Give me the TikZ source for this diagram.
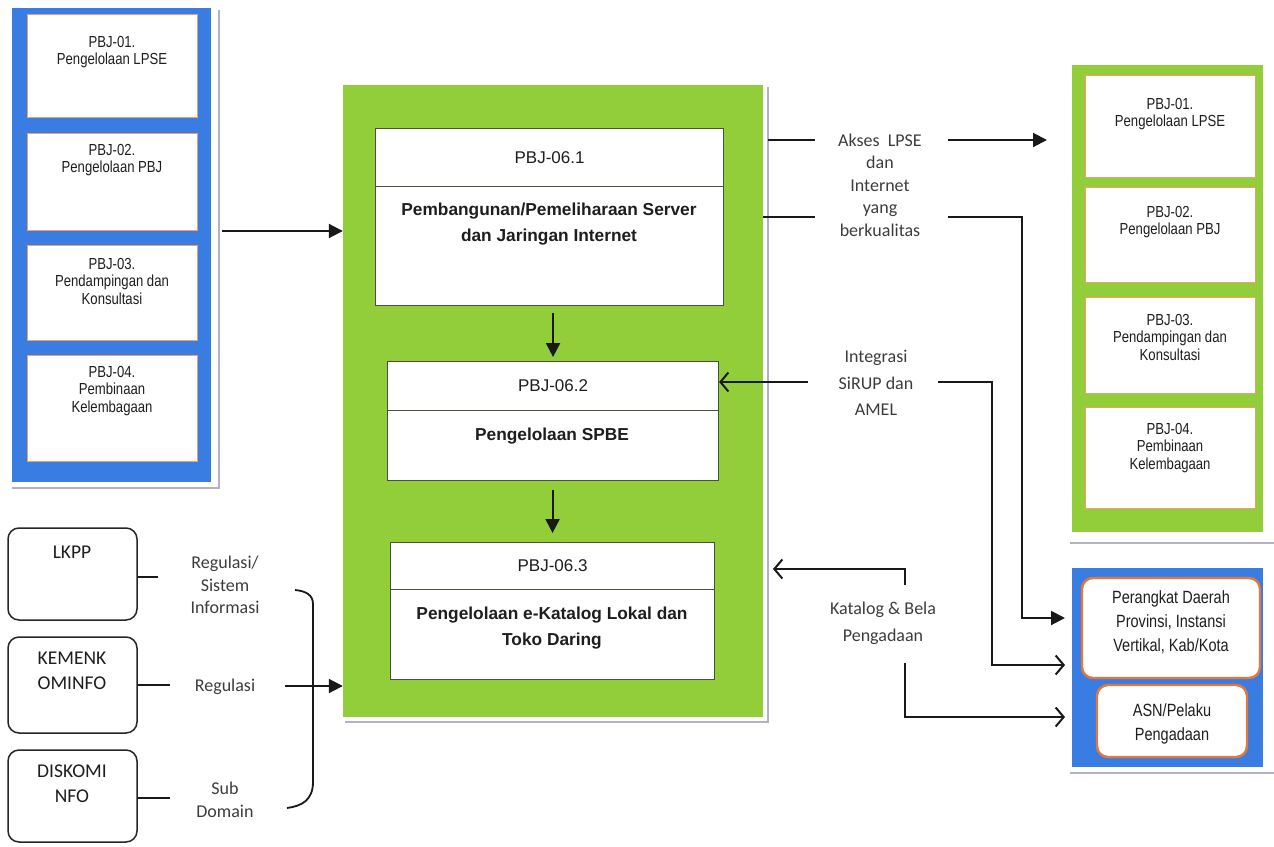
\documentclass[tikz,border=0pt]{standalone}
\usepackage{fontspec}
\setmainfont{Liberation Sans}
\newfontfamily\narrowsans{Liberation Sans}[FakeStretch=0.82]
\newfontfamily\calib{Carlito}
\usetikzlibrary{arrows.meta,fit,calc}
\definecolor{panelblue}{RGB}{58,125,226}
\definecolor{panelgreen}{RGB}{146,206,58}
\definecolor{edgeorange}{RGB}{236,160,110}
\definecolor{pillorange}{RGB}{228,120,60}
\definecolor{shadowgray}{RGB}{178,178,198}
\definecolor{boxedge}{RGB}{70,82,60}
\definecolor{inktext}{RGB}{30,30,30}
\definecolor{labeltext}{RGB}{60,60,60}

\begin{document}
\begin{tikzpicture}[x=1pt,y=-1pt,
  bluepanel/.style={fill=panelblue, draw=none, inner sep=0pt},
  greenpanel/.style={fill=panelgreen, draw=none, inner sep=0pt},
  subbox/.style={fill=white, draw=edgeorange, line width=0.9pt, inner sep=0pt},
  pillbox/.style={fill=white, draw=pillorange, line width=2.4pt, rounded corners=11pt, inner sep=0pt},
  srcbox/.style={fill=white, draw=black!85, line width=1.5pt, rounded corners=11pt, inner sep=0pt},
  stagebox/.style={fill=white, draw=boxedge, line width=1.1pt, inner sep=0pt, anchor=north west,
    font=\fontsize{17}{20}\selectfont, text=inktext},
  shadowline/.style={draw=shadowgray, line width=1.6pt},
  smalltxt/.style={font=\narrowsans\fontsize{16}{17.5}\selectfont, align=center, text=inktext, inner sep=0pt},
  pilltxt/.style={font=\narrowsans\fontsize{17.7}{24}\selectfont, align=center, text=inktext, inner sep=0pt},
  stagetxt/.style={font=\bfseries\fontsize{17.3}{26}\selectfont, align=center, text=inktext, inner sep=0pt},
  srctxt/.style={font=\calib\fontsize{19.5}{25}\selectfont, align=center, text=inktext, inner sep=0pt},
  flowtxt/.style={font=\calib\fontsize{18}{22.5}\selectfont, align=center, text=labeltext, inner sep=0pt},
  link/.style={draw=black!90, line width=2pt},
  solidarrow/.style={link, -{Triangle[length=14pt,width=14pt]}},
  openarrow/.style={link, -{Straight Barb[length=8pt,width=19pt,line width=2pt]}}
]
\useasboundingbox (0,0) rectangle (1274,846);

% ---------- left panel: PBJ-01 .. PBJ-04 ----------
\node[bluepanel, fit={(12,8) (211,482)}] (lp) {};
\draw[shadowline] (219,10) -- (219,488) -- (12,488);
\node[subbox, fit={(27,14) (197,117)}] (l1) {};
\node[subbox, fit={(27,133) (197,230)}] (l2) {};
\node[subbox, fit={(27,245) (197,340)}] (l3) {};
\node[subbox, fit={(27,355) (197,461)}] (l4) {};
\node[smalltxt] (l1t) at (112,52) {PBJ-01.\\Pengelolaan LPSE};
\node[smalltxt] (l2t) at (112,160) {PBJ-02.\\Pengelolaan PBJ};
\node[smalltxt] (l3t) at (112,281) {PBJ-03.\\Pendampingan dan\\Konsultasi};
\node[smalltxt] (l4t) at (112,391) {PBJ-04.\\Pembinaan\\Kelembagaan};

% ---------- central panel: PBJ-06 stages ----------
\node[greenpanel, fit={(343,85) (763,717)}] (cp) {};
\draw[shadowline] (768,87) -- (768,722) -- (345,722);

\node[stagebox, minimum width=348pt, minimum height=58pt] (s1h) at (375,128) {PBJ-06.1};
\node[stagebox, minimum width=348pt, minimum height=119pt] (s1b) at (375,186) {};
\node[stagetxt] (s1t) at (549,224) {Pembangunan/Pemeliharaan Server\\dan Jaringan Internet};

\node[stagebox, minimum width=331pt, minimum height=49pt] (s2h) at (387,361) {PBJ-06.2};
\node[stagebox, minimum width=331pt, minimum height=70pt] (s2b) at (387,410) {};
\node[stagetxt] (s2t) at (552,436) {Pengelolaan SPBE};

\node[stagebox, minimum width=324pt, minimum height=47pt] (s3h) at (390,542) {PBJ-06.3};
\node[stagebox, minimum width=324pt, minimum height=90pt] (s3b) at (390,589) {};
\node[stagetxt] (s3t) at (552,628) {Pengelolaan e-Katalog Lokal dan\\Toko Daring};

\draw[solidarrow, shorten <=7pt, shorten >=4pt] (s1b.south -| s2h.north) -- (s2h.north);
\draw[solidarrow, shorten <=9pt, shorten >=9pt] (s2b.south -| s3h.north) -- (s3h.north);

% ---------- right panel: PBJ-01 .. PBJ-04 ----------
\node[greenpanel, fit={(1072,65) (1263,532)}] (rg) {};
\draw[shadowline] (1070,543) -- (1274,543);
\node[subbox, fit={(1085,75) (1255,177)}] (r1) {};
\node[subbox, fit={(1085,187) (1255,282)}] (r2) {};
\node[subbox, fit={(1085,297) (1255,393)}] (r3) {};
\node[subbox, fit={(1085,407) (1255,508)}] (r4) {};
\node[smalltxt] (r1t) at (1170,114) {PBJ-01.\\Pengelolaan LPSE};
\node[smalltxt] (r2t) at (1170,222) {PBJ-02.\\Pengelolaan PBJ};
\node[smalltxt] (r3t) at (1170,337) {PBJ-03.\\Pendampingan dan\\Konsultasi};
\node[smalltxt] (r4t) at (1170,448) {PBJ-04.\\Pembinaan\\Kelembagaan};

% ---------- right panel: users ----------
\node[bluepanel, fit={(1072,568) (1263,767)}] (rb) {};
\draw[shadowline] (1070,773) -- (1274,773);
\node[pillbox, fit={(1082,578) (1260,678)}] (pd) {};
\node[pillbox, fit={(1097,685) (1247,757)}] (asn) {};
\node[pilltxt] (pdt) at (1171,622) {Perangkat Daerah\\Provinsi, Instansi\\Vertikal, Kab/Kota};
\node[pilltxt] (asnt) at (1172,724) {ASN/Pelaku\\Pengadaan};

% ---------- left: external sources ----------
\node[srcbox, fit={(8,528) (137,620)}] (lkpp) {};
\node[srcbox, fit={(8,637) (137,733)}] (kominfo) {};
\node[srcbox, fit={(8,750) (137,842)}] (diskominfo) {};
\node[srctxt] (lkppt) at (72,552) {LKPP};
\node[srctxt] (kominfot) at (72,671) {KEMENK\\OMINFO};
\node[srctxt] (diskominfot) at (72,784) {DISKOMI\\NFO};

\node[flowtxt] (reg1) at (225,585) {Regulasi/\\Sistem\\Informasi};
\node[flowtxt] (reg2) at (225,687) {Regulasi};
\node[flowtxt] (subd) at (225,800) {Sub\\Domain};

\draw[link] (lkpp.east |- 0,577) -- (158,577);
\draw[link] (kominfo.east |- 0,685) -- (170,685);
\draw[link] (diskominfo.east |- 0,798) -- (170,798);

% bracket gathering the three sources
\draw[link, line width=1.8pt] (295,590) .. controls (306,591) and (313,595) .. (313,604)
  -- (313,782) .. controls (313,800) and (302,806) .. (287,808);
\coordinate (rg0) at (285,686);
\draw[solidarrow] (rg0) -- (rg0 -| cp.west);

% ---------- left panel into central panel ----------
\coordinate (lp0) at (222,231);
\draw[solidarrow] (lp0) -- (lp0 -| cp.west);

% ---------- access LPSE and internet ----------
\node[flowtxt] (akses) at (880,185) {Akses\ \ LPSE\\dan\\Internet\\yang\\berkualitas};
\coordinate (ak0) at (768,140);
\coordinate (ak1) at (815,140);
\coordinate (ak2) at (948,140);
\draw[link] (ak0) -- (ak1);
\draw[solidarrow] (ak2) -- (1047,140);

\coordinate (in0) at (763,217);
\coordinate (in1) at (815,217);
\coordinate (in2) at (948,217);
\draw[link] (in0) -- (in1);
\draw[solidarrow] (in2) -| (1022,618) -- (1065,618);

% ---------- SiRUP / AMEL integration ----------
\node[flowtxt, font=\calib\fontsize{18}{26.5}\selectfont] (sirup) at (876,383) {Integrasi\\SiRUP dan\\AMEL};
\coordinate (si0) at (808,382);
\draw[openarrow] (si0) -- (si0 -| s2h.east);
\coordinate (si1) at (938,382);
\draw[openarrow] (si1) -| (992,665) -- (1065,665);

% ---------- catalogue and procurement ----------
\node[flowtxt, font=\calib\fontsize{18}{27}\selectfont] (katalog) at (883,623) {Katalog \& Bela\\Pengadaan};
\coordinate (ka0) at (905,585);
\draw[openarrow] (ka0) |- (773,569);
\coordinate (ka1) at (905,663);
\draw[openarrow] (ka1) |- (1065,717);

\end{tikzpicture}
\end{document}
